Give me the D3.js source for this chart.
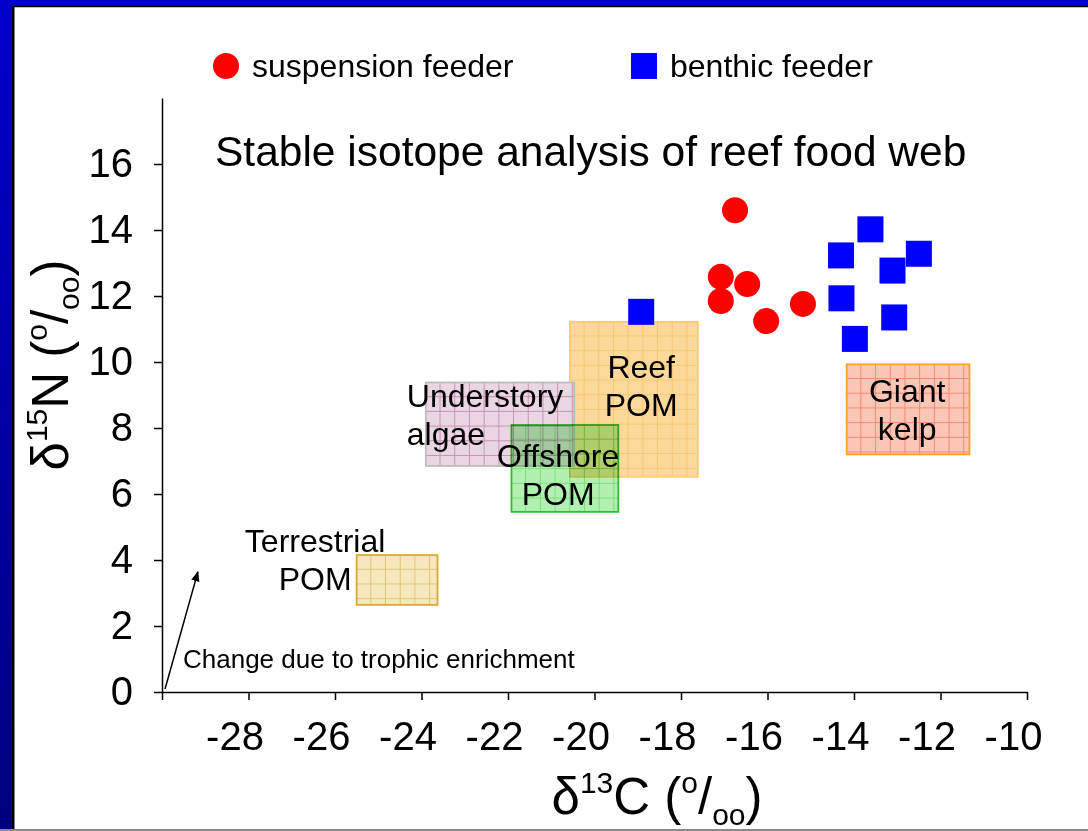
<!DOCTYPE html>
<html><head><meta charset="utf-8">
<script src="https://cdn.jsdelivr.net/npm/d3@7"></script>
<style>
html,body{margin:0;padding:0;width:1088px;height:831px;overflow:hidden;background:#fff}
text{font-family:"Liberation Sans",Arial,Helvetica,sans-serif;fill:#000}
</style></head><body><svg id="c" width="1088" height="831"></svg>
<script>
// ---------- data ----------
const xTicks = [-30,-28,-26,-24,-22,-20,-18,-16,-14,-12,-10];
const yTicks = [0,2,4,6,8,10,12,14,16];
const suspensionC = [-16.75,-17.08,-17.08,-16.47,-16.03,-15.18];
const suspensionN = [14.60,12.58,11.85,12.36,11.24,11.76];
const benthicC = [-18.92,-13.62,-14.30,-12.50,-13.11,-14.29,-13.07,-13.98];
const benthicN = [11.52,14.02,13.23,13.28,12.77,11.93,11.35,10.70];
const sourceNames = ["Reef POM","Understory algae","Offshore POM","Terrestrial POM","Giant kelp"];
const sourceCmin = [-20.57,-23.90,-21.92,-25.50,-14.17];
const sourceCmax = [-17.61,-20.47,-19.45,-23.63,-11.33];
const sourceNmin = [6.52,6.85,5.46,2.64,7.20];
const sourceNmax = [11.22,9.38,8.09,4.15,9.93];
const labelLines = [["Reef","POM"],["Understory","algae"],["Offshore","POM"],["Terrestrial","POM"],["Giant","kelp"]];
const labelC = [-18.92,-24.34,-20.84,-26.46,-12.77];
const labelN = [9.52,8.65,6.83,4.25,8.79];
const labelAnchor = ["middle","start","middle","middle","middle"];
const arrowC = [-29.93,-29.17];
const arrowN = [0.09,3.64];
const legendNames = ["suspension feeder","benthic feeder"];
const titleText = "Stable isotope analysis of reef food web";
const noteText = "Change due to trophic enrichment";

// ---------- styles ----------
const boxFill   = ["#fcd99a","#ead6e2","#b2f0b2","#f6e8bc","#fcc6b6"];
const boxGrid   = ["#f7c870","#c892b4","#7cde7c","#e2c474","#f28a74"];
const boxStroke = ["#ffcc70","#bdbdbd","#2fc02f","#d8aa32","#ffa028"];
const boxBlend  = ["normal","normal","multiply","normal","normal"];

const svg = d3.select("#c");
const W = 1088, H = 831;

// frame
const defs = svg.append("defs");
const bg = defs.append("linearGradient").attr("id","bg").attr("x1",0).attr("y1",0).attr("x2",0).attr("y2",1);
bg.append("stop").attr("offset","0%").attr("stop-color","#0000cc");
bg.append("stop").attr("offset","100%").attr("stop-color","#00007e");
svg.append("rect").attr("width",W).attr("height",H).attr("fill","url(#bg)");
svg.append("rect").attr("x",12).attr("y",6).attr("width",W).attr("height",823).attr("fill","#fff");
svg.append("line").attr("x1",13.25).attr("x2",13.25).attr("y1",6).attr("y2",829).attr("stroke","#000").attr("stroke-width",2.5);
svg.append("line").attr("x1",12).attr("x2",W).attr("y1",6.5).attr("y2",6.5).attr("stroke","#000").attr("stroke-width",1.6);

const x = d3.scaleLinear().domain([-30,-10]).range([162,1027]);
const y = d3.scaleLinear().domain([0,18]).range([692,98]);

// patterns
sourceNames.forEach((n,i)=>{
  const x0 = x(sourceCmin[i]), y0 = y(sourceNmax[i]);
  const s = 14.7;
  const p = defs.append("pattern").attr("id","pat"+i).attr("patternUnits","userSpaceOnUse")
    .attr("x",x0).attr("y",y0).attr("width",s).attr("height",s);
  p.append("rect").attr("width",s).attr("height",s).attr("fill",boxFill[i]);
  p.append("path").attr("d",`M${s-0.5},0V${s}M0,${s-0.5}H${s}`).attr("stroke",boxGrid[i]).attr("stroke-width",1).attr("fill","none");
});

// boxes
sourceNames.forEach((n,i)=>{
  svg.append("rect")
    .attr("x",x(sourceCmin[i])).attr("y",y(sourceNmax[i]))
    .attr("width",x(sourceCmax[i])-x(sourceCmin[i]))
    .attr("height",y(sourceNmin[i])-y(sourceNmax[i]))
    .attr("fill","url(#pat"+i+")").attr("stroke",boxStroke[i]).attr("stroke-width",1.8)
    .style("mix-blend-mode",boxBlend[i]);
});

// box labels
sourceNames.forEach((n,i)=>{
  const t = svg.append("text").attr("x",x(labelC[i])).attr("y",y(labelN[i]))
    .attr("text-anchor",labelAnchor[i]).attr("font-size",32);
  labelLines[i].forEach((l,j)=>{
    t.append("tspan").attr("x",x(labelC[i])).attr("dy",j===0?0:38).text(l);
  });
});

// axes
const xAxis = d3.axisBottom(x).tickValues(xTicks).tickSize(8).tickSizeOuter(0).tickPadding(22)
  .tickFormat(d=> d===-30 ? "" : String(d).replace("\u2212","-"));
const gx = svg.append("g").attr("transform","translate(0,692)").call(xAxis);
gx.selectAll("text").attr("font-size",40).attr("font-family",null).attr("dx",-14);
const yAxis = d3.axisLeft(y).tickValues(yTicks).tickSize(8).tickSizeOuter(0).tickPadding(21);
const gy = svg.append("g").attr("transform","translate(162,0)").call(yAxis);
gy.selectAll("text").attr("font-size",40).attr("font-family",null);
svg.selectAll(".domain,.tick line").attr("stroke","#000").attr("stroke-width",1.5);

// arrow
defs.append("marker").attr("id","ah").attr("viewBox","0 0 10 10").attr("refX",9).attr("refY",5)
  .attr("markerWidth",7).attr("markerHeight",7).attr("orient","auto")
  .append("path").attr("d","M0,1L10,5L0,9z").attr("fill","#000");
svg.append("line").attr("x1",x(arrowC[0])).attr("y1",y(arrowN[0])).attr("x2",x(arrowC[1])).attr("y2",y(arrowN[1]))
  .attr("stroke","#000").attr("stroke-width",1.5).attr("marker-end","url(#ah)");
svg.append("text").attr("x",183).attr("y",668).attr("font-size",26).text(noteText);

// points
svg.selectAll("circle.s").data(suspensionC).enter().append("circle").attr("class","s")
  .attr("cx",d=>x(d)).attr("cy",(d,i)=>y(suspensionN[i])).attr("r",13).attr("fill","#ff0000");
svg.selectAll("rect.b").data(benthicC).enter().append("rect").attr("class","b")
  .attr("x",d=>x(d)-13).attr("y",(d,i)=>y(benthicN[i])-13).attr("width",26).attr("height",26).attr("fill","#0000ff");

// title
svg.append("text").attr("x",215).attr("y",166).attr("font-size",42.5).text(titleText);

// legend
svg.append("circle").attr("cx",226).attr("cy",66).attr("r",13).attr("fill","#ff0000");
svg.append("text").attr("x",252).attr("y",77).attr("font-size",32).text(legendNames[0]);
svg.append("rect").attr("x",631).attr("y",53).attr("width",26).attr("height",26).attr("fill","#0000ff");
svg.append("text").attr("x",670).attr("y",77).attr("font-size",32).text(legendNames[1]);

// axis titles
function isoTitle(g, el, sub){
  const t = g.append("text").attr("font-size",51).attr("text-anchor","middle");
  t.append("tspan").text("\u03b4");
  t.append("tspan").attr("font-size",30).attr("dy",-21).text(el[0]);
  t.append("tspan").attr("dy",21).text(el[1]+" (");
  t.append("tspan").attr("font-size",30).attr("dy",-21).text("o");
  t.append("tspan").attr("dy",21).text("/");
  t.append("tspan").attr("font-size",30).attr("dy",sub).text("oo");
  t.append("tspan").attr("dy",-sub).text(")");
  return t;
}
isoTitle(svg.append("g").attr("transform","translate(657,814)"), ["13","C"], 11);
isoTitle(svg.append("g").attr("transform","translate(68,365) rotate(-90)"), ["15","N"], 11);

// bottom edge
svg.append("rect").attr("x",0).attr("y",829).attr("width",W).attr("height",2).attr("fill","#8a8a8a");
</script></body></html>
